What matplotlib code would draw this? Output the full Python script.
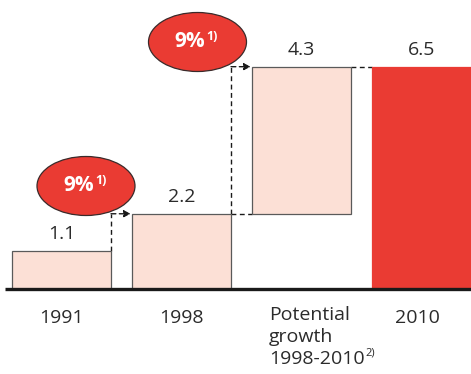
import matplotlib
matplotlib.use("Agg")
import matplotlib.pyplot as plt
from matplotlib.patches import Ellipse

plt.rcParams['font.family'] = ['Open Sans', 'DejaVu Sans']

categories = ["1991", "1998", "Potential\ngrowth\n1998-2010", "2010"]
values = [1.1, 2.2, 4.3, 6.5]
bottoms = [0, 0, 2.2, 0]
growth_labels = ["9%", "9%"]
growth_note = "1)"
potential_note = "2)"

pink = "#FCE0D6"
red = "#EA3B33"
edge = "#5a5a5a"
txt = "#2b2b2b"

W, H = 471, 374
fig = plt.figure(figsize=(W / 100, H / 100), dpi=100)
base_px = 289
scale = 34.2  # px per unit
ax = fig.add_axes([0, (H - base_px) / H, 1, base_px / H])
x0 = 61.5
step = 120.0
ax.set_xlim(-x0 / step, (W - x0) / step)
ax.set_ylim(0, base_px / scale)
ax.axis("off")

xs = list(range(len(categories)))
width = 99 / step
colors = [pink, pink, pink, red]
edges = [edge, edge, edge, red]
ax.bar(xs, values, bottom=bottoms, width=width, color=colors,
       edgecolor=edges, linewidth=0.9, zorder=2)

FS = 14
# value labels
for x, v, b in zip(xs, values, bottoms):
    ax.text(x, b + v + 17 / scale, f"{v:.1f}", ha="center", va="center",
            fontsize=FS, color=txt)

# baseline
ax.plot([5 / W, 1], [0, 0], transform=ax.transAxes, color="#1a1a1a",
        lw=2.4, solid_capstyle="butt", clip_on=False, zorder=3)

dash = dict(color="#1a1a1a", lw=1.0, ls=(0, (3.5, 2.5)), zorder=1)
hw = width / 2
arrow = dict(arrowstyle="-|>", color="#1a1a1a", lw=1.0, ls=(0, (3.5, 2.5)),
             mutation_scale=10, shrinkA=0, shrinkB=0)
# connector 1991 -> 1998
top1 = bottoms[0] + values[0]
top2 = bottoms[1] + values[1]
ax.plot([0 + hw, 0 + hw], [top1, top2], **dash)
ax.annotate("", xy=(1 - hw - 0.01, top2), xytext=(0 + hw, top2),
            arrowprops=arrow)
# connector 1998 -> potential
top3 = bottoms[2] + values[2]
ax.plot([1 + hw, 1 + hw], [top2, top3], **dash)
ax.plot([1 + hw, 2 - hw], [top2, top2], **dash)
ax.annotate("", xy=(2 - hw - 0.01, top3), xytext=(1 + hw, top3),
            arrowprops=arrow)
# potential -> 2010
ax.plot([2 + hw, 3 - hw], [top3, top3], **dash)

# ellipses
ell_centers = [((86 - x0) / step, (base_px - 186) / scale),
               ((197.5 - x0) / step, (base_px - 42) / scale)]
for (cx, cy), lab in zip(ell_centers, growth_labels):
    e = Ellipse((cx, cy), 98 / step, 59 / scale, facecolor=red,
                edgecolor="#3a2a2a", lw=0.9, zorder=4)
    ax.add_patch(e)
    ax.annotate(lab, xy=(cx, cy), xytext=(5.5, 0), textcoords="offset points",
                ha="right", va="center", fontsize=15, fontweight="bold",
                color="white", zorder=5)
    ax.annotate(growth_note, xy=(cx, cy), xytext=(6.5, 4),
                textcoords="offset points", ha="left", va="center",
                fontsize=9, fontweight="bold", color="white", zorder=5)

# category labels
for x, c in zip(xs, categories):
    if "\n" in c:
        t = ax.text((269 - x0) / step, -(306 - base_px) / scale, c,
                    ha="left", va="top", fontsize=FS, color=txt,
                    linespacing=1.3, clip_on=False)
        fig.canvas.draw()
        bb = t.get_window_extent()
        # place note right after the last (longest) line, near its top
        px = bb.x1 + 1
        py = bb.y0 + 15
        xd, yd = ax.transData.inverted().transform((px, py))
        ax.text(xd, yd, potential_note, ha="left", va="center",
                fontsize=8, color=txt, clip_on=False)
    else:
        ax.text(x - (4 / step if x == 3 else 0), -(318 - base_px) / scale, c,
                ha="center", va="center", fontsize=FS, color=txt,
                clip_on=False)

fig.savefig("out.png", dpi=100)
